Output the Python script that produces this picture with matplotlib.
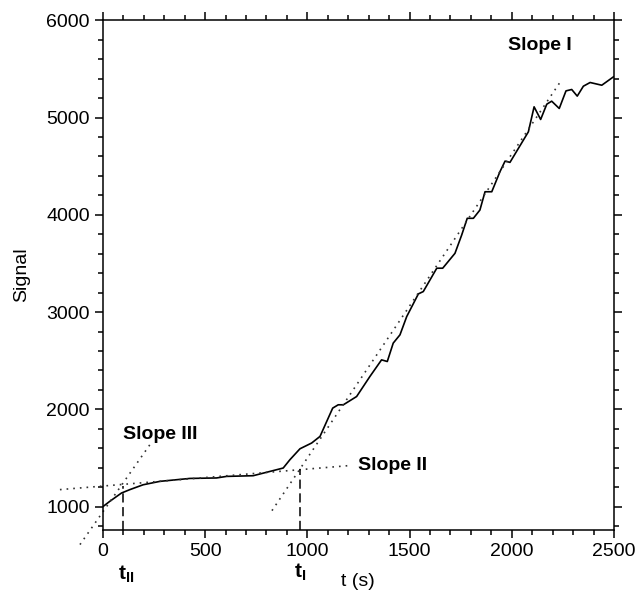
import matplotlib
matplotlib.use("Agg")
import matplotlib.pyplot as plt
from matplotlib.ticker import MultipleLocator

plt.rcParams['font.family'] = ['Liberation Sans', 'DejaVu Sans']
plt.rcParams['mathtext.fontset'] = 'custom'
plt.rcParams['mathtext.rm'] = 'Liberation Sans'
plt.rcParams['mathtext.bf'] = 'Liberation Sans:bold'

# Messkurve
zeit = [0, 34, 91, 132, 197, 279, 425, 556, 605, 735, 882, 915, 964, 1021,
        1062, 1124, 1151, 1176, 1241, 1306, 1363, 1391, 1420, 1453, 1486,
        1543, 1567, 1633, 1662, 1722, 1755, 1782, 1812, 1844, 1869, 1902,
        1942, 1967, 1991, 2081, 2109, 2141, 2171, 2195, 2232, 2265, 2293,
        2320, 2350, 2383, 2440, 2497]
signal = [1000, 1055, 1140, 1175, 1225, 1260, 1290, 1295, 1311, 1318, 1397,
          1483, 1595, 1654, 1722, 2013, 2047, 2047, 2132, 2338, 2509, 2492,
          2681, 2766, 2954, 3187, 3211, 3451, 3451, 3604, 3793, 3964, 3964,
          4049, 4237, 4237, 4443, 4552, 4539, 4853, 5110, 4980, 5137, 5168,
          5093, 5274, 5288, 5220, 5322, 5360, 5332, 5418]

# Tangenten (Anfangs- und Endpunkte)
slope1_x = [827, 2246]
slope1_y = [959, 5394]
slope2_x = [-210, 1199]
slope2_y = [1175, 1421]
slope3_x = [-112, 230]
slope3_y = [610, 1637]

# Schnittpunkte t_II und t_I
t_x = [98, 964]
t_y = [1215, 1390]

fig = plt.figure(figsize=(6.35, 5.9), dpi=100)
ax = fig.add_axes([0.162, 0.1017, 0.805, 0.864])

ax.plot(zeit, signal, color="black", lw=1.2)
for xs, ys in [(slope1_x, slope1_y), (slope2_x, slope2_y), (slope3_x, slope3_y)]:
    ax.plot(xs, ys, ls=(0, (1, 3)), color="#333333", lw=1.2, clip_on=False)
for tx, ty in zip(t_x, t_y):
    ax.plot([tx, tx], [760, ty], ls=(0, (6, 3)), color="black", lw=1.1)

ax.set_xlim(0, 2500)
ax.set_ylim(760, 6000)
ax.xaxis.set_major_locator(MultipleLocator(500))
ax.xaxis.set_minor_locator(MultipleLocator(100))
ax.yaxis.set_major_locator(MultipleLocator(1000))
ax.yaxis.set_minor_locator(MultipleLocator(200))
ax.tick_params(which="both", direction="out", top=True, right=True, labelsize=14, width=1.1)
ax.tick_params(which="major", length=6)
ax.tick_params(which="minor", length=3.5)
for s in ax.spines.values():
    s.set_linewidth(1.1)

ax.set_ylabel("Signal", fontsize=14)
ax.yaxis.set_label_coords(-0.143, 0.5)
ax.text(1247, 230, "t (s)", fontsize=14, ha="center", va="center")

ax.text(2138, 5743, "Slope I", fontsize=14, fontweight="bold", ha="center", va="center")
ax.text(1248, 1421, "Slope II", fontsize=14, fontweight="bold", ha="left", va="center")
ax.text(98, 1740, "Slope III", fontsize=14, fontweight="bold", ha="left", va="center")
ax.text(112, 300, r"$\mathbf{t_{II}}$", fontsize=15, ha="center", va="center", clip_on=False)
ax.text(966, 320, r"$\mathbf{t_{I}}$", fontsize=15, ha="center", va="center", clip_on=False)

fig.savefig("out.png", dpi=100)
